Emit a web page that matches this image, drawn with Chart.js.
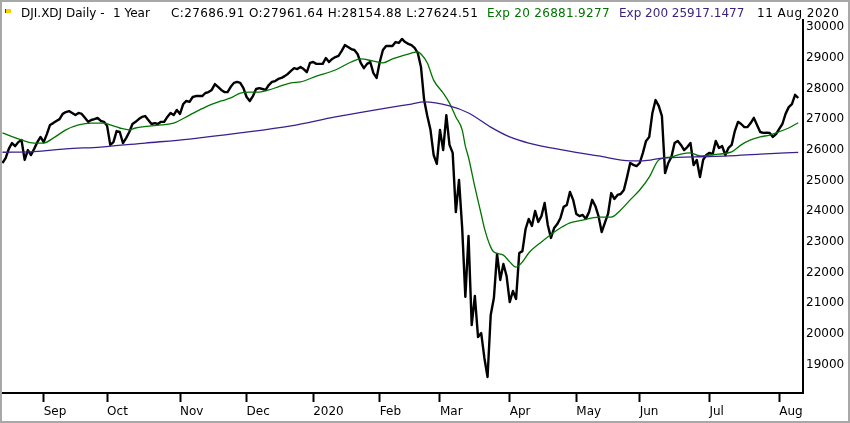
<!DOCTYPE html>
<html>
<head>
<meta charset="utf-8">
<title>DJI.XDJ Daily - 1 Year</title>
<script src="https://cdn.jsdelivr.net/npm/chart.js@4.4.1/dist/chart.umd.min.js"></script>
<style>
  html, body { margin: 0; padding: 0; background: #fff; }
  #wrap { position: relative; width: 850px; height: 423px; overflow: hidden; background: #fff; }
  #chart { position: absolute; left: 0; top: 0; }
  #frame { position: absolute; left: 0; top: 0; width: 850px; height: 423px; box-sizing: border-box;
           border: 2px solid #a8a8a8; pointer-events: none; }
  .hd { position: absolute; top: 6px; font: 12px "DejaVu Sans", sans-serif; line-height: 14px;
        white-space: pre; color: #000; }
  .green { color: #007400; }
  .purple { color: #3a1f7e; }
  #flag { position: absolute; left: 5px; top: 9px; width: 5px; height: 4px; background: #f2d200;
          border-left: 1px solid #444; }
</style>
</head>
<body>
<div id="wrap">
  <canvas id="chart" width="850" height="423"></canvas>
  <div id="flag"></div>
  <span class="hd" style="left:21px">DJI.XDJ Daily -</span>
  <span class="hd" style="left:113px">1 Year</span>
  <span class="hd" style="left:171px;letter-spacing:0.4px">C:27686.91 O:27961.64 H:28154.88 L:27624.51</span>
  <span class="hd green" style="left:487px;letter-spacing:0.3px">Exp 20 26881.9277</span>
  <span class="hd purple" style="left:619px">Exp 200 25917.1477</span>
  <span class="hd" style="left:757px;letter-spacing:0.5px">11 Aug 2020</span>
  <div id="frame"></div>
</div>
<script>
// trading day index of the first close value
const closeStart = 1;

// daily closes, one per trading day
const closeValues = [
  25570, 25730, 26030, 26220, 26120, 26250, 26320, 25670, 25990, 25830,
  26030, 26250, 26420, 26250, 26510, 26810, 26870, 26940, 27000, 27170,
  27230, 27260, 27200, 27130, 27200, 27170, 27040, 26910, 26970, 27000,
  27040, 26940, 26910, 26780, 26160, 26250, 26610, 26580, 26220, 26380,
  26580, 26840, 26910, 27000, 27070, 27100, 26970, 26840, 26870, 26840,
  26910, 26910, 27070, 27200, 27130, 27300, 27170, 27490, 27590, 27560,
  27720, 27750, 27750, 27750, 27850, 27880, 27950, 28140, 28050, 27950,
  27880, 27880, 28050, 28180, 28210, 28180, 28010, 27720, 27590, 27750,
  27980, 28010, 27980, 27950, 28110, 28210, 28240, 28310, 28340, 28400,
  28470, 28570, 28660, 28630, 28700, 28630, 28530, 28830, 28860, 28800,
  28800, 28800, 28990, 28860, 28960, 29020, 29060, 29220, 29410, 29350,
  29280, 29250, 29120, 28830, 28660, 28800, 28860, 28500, 28340, 28860,
  29250, 29380, 29380, 29380, 29510, 29480, 29610, 29510, 29450, 29410,
  29320, 29150, 28700, 27620, 27100, 26650, 25830, 25540, 26650, 25990,
  27130, 26160, 25900, 23970, 25020, 23450, 21210, 23190, 20290, 21240,
  19900, 20030, 19220, 18600, 20620, 21170, 22610, 21760, 22280, 21890,
  21040, 21400, 21140, 22640, 22700, 23420, 23750, 23520, 24010, 23650,
  23840, 24270, 23550, 23130, 23450, 23580, 23780, 24140, 24200, 24630,
  24370, 23910, 23840, 23880, 23750, 23970, 24370, 24170, 23840, 23320,
  23620, 23910, 24590, 24400, 24530, 24560, 24690, 25110, 25570, 25510,
  25470, 25570, 25900, 26290, 26420, 27200, 27620, 27430, 27100, 25240,
  25570, 25770, 26220, 26290, 26160, 25990, 26090, 26220, 25500, 25670,
  25110, 25670, 25830, 25900, 25860, 26290, 26060, 26120, 25830, 26060,
  26160, 26610, 26910, 26840, 26740, 26740, 26870, 27040, 26810, 26580,
  26550, 26560, 26550, 26420, 26510, 26680, 26840, 27170, 27390, 27490,
  27790, 27687
];

// Exp 20 at these trading days
const ema20Days = [1, 7, 11, 14, 17, 21, 25, 29, 33, 35, 38, 41, 43, 51, 55, 60, 65, 70, 73, 76,
  79, 82, 85, 88, 92, 95, 100, 106, 111, 114, 118, 121, 124, 127, 130, 132, 133, 135, 137, 140,
  142, 144, 146, 147, 148, 150, 152, 153, 155, 156, 159, 161, 163, 165, 167, 171, 176, 180, 184, 189,
  193, 196, 199, 202, 205, 208, 212, 215, 218, 221, 224, 227, 231, 234, 237, 240, 243, 245, 249, 252];
const ema20Values = [26550, 26320, 26220, 26220, 26380, 26650, 26810, 26870, 26870, 26810, 26710, 26650, 26710, 26810, 26870, 27130, 27390, 27590, 27690, 27850,
  27880, 27880, 27950, 28050, 28180, 28210, 28400, 28600, 28860, 28960, 28890, 28830, 28960, 29060, 29150, 29190, 29120, 28830, 28270, 27850,
  27520, 27070, 26650, 26120, 25750, 24790, 23900, 23450, 22830, 22670, 22570, 22350, 22180, 22350, 22640, 23000, 23390, 23620, 23710, 23810,
  23810, 24040, 24370, 24690, 25110, 25670, 25770, 25860, 25900, 25800, 25830, 25860, 25930, 26160, 26320, 26420, 26480, 26550, 26710, 26882];

// Exp 200 at these trading days
const ema200Days = [1, 11, 21, 32, 46, 60, 76, 92, 106, 122, 130, 134, 142, 148, 155, 161, 167, 178, 189, 199, 203, 209, 219, 230, 240, 252];
const ema200Values = [25920, 25940, 26030, 26090, 26220, 26350, 26550, 26780, 27070, 27360, 27490, 27560, 27430, 27200, 26740, 26420, 26220, 25990, 25800, 25640, 25640, 25730, 25770, 25800, 25860, 25917];

// axis ticks
const monthTicks = [14, 34, 57, 78, 99, 120, 139, 161, 182, 202, 224, 246];
const monthLabels = ['Sep', 'Oct', 'Nov', 'Dec', '2020', 'Feb', 'Mar', 'Apr', 'May', 'Jun', 'Jul', 'Aug'];
const priceTicks = [19000, 20000, 21000, 22000, 23000, 24000, 25000, 26000, 27000, 28000, 29000, 30000];

function toPoints(days, values) {
  return values.map((v, k) => ({ x: days[k], y: v }));
}

const closePoints = closeValues.map((v, k) => ({ x: closeStart + k, y: v }));

Chart.defaults.font.family = '"DejaVu Sans", sans-serif';
Chart.defaults.font.size = 12;
Chart.defaults.color = '#000';

const ctx = document.getElementById('chart').getContext('2d');
new Chart(ctx, {
  type: 'line',
  data: {
    datasets: [
      {
        label: 'Exp 200',
        data: toPoints(ema200Days, ema200Values),
        borderColor: '#3a1f8e',
        borderWidth: 1.3,
        pointRadius: 0,
        cubicInterpolationMode: 'monotone'
      },
      {
        label: 'Exp 20',
        data: toPoints(ema20Days, ema20Values),
        borderColor: '#007400',
        borderWidth: 1.3,
        pointRadius: 0,
        cubicInterpolationMode: 'monotone'
      },
      {
        label: 'DJI.XDJ',
        data: closePoints,
        borderColor: '#000',
        borderWidth: 2.4,
        borderJoinStyle: 'round',
        pointRadius: 0,
        tension: 0
      }
    ]
  },
  options: {
    responsive: false,
    animation: false,
    events: [],
    layout: { padding: { left: 2, top: 20, right: 0, bottom: 0 } },
    plugins: { legend: { display: false }, tooltip: { enabled: false } },
    scales: {
      x: {
        type: 'linear',
        min: 0.85,
        max: 253.5,
        afterBuildTicks: (scale) => { scale.ticks = monthTicks.map(v => ({ value: v })); },
        afterFit: (scale) => { scale.height = 30; },
        ticks: {
          autoSkip: false,
          maxRotation: 0,
          align: 'start',
          padding: 3,
          callback: (value, index) => monthLabels[index]
        },
        grid: { drawOnChartArea: false, drawTicks: true, tickLength: 9, tickWidth: 2, tickColor: '#000' },
        border: { display: true, color: '#000', width: 2 }
      },
      y: {
        type: 'linear',
        position: 'right',
        min: 18078,
        max: 30228,
        afterBuildTicks: (scale) => { scale.ticks = priceTicks.map(v => ({ value: v })); },
        afterFit: (scale) => { scale.width = 47; },
        ticks: { autoSkip: false, padding: 3, callback: (value) => String(value) },
        grid: { drawOnChartArea: false, drawTicks: false },
        border: { display: true, color: '#000', width: 2 }
      }
    }
  }
});
</script>
</body>
</html>
